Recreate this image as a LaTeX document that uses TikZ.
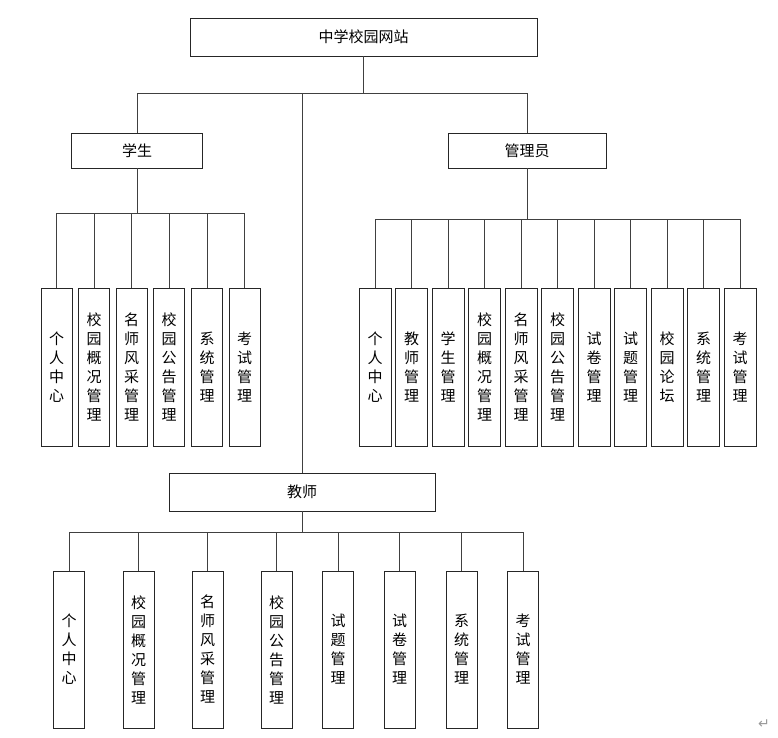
\documentclass[tikz,border=0pt]{standalone}
\usepackage{fontspec}
\newfontfamily\cjk{Noto Sans CJK SC}
\newfontfamily\dejavu{DejaVu Sans}
\begin{document}
\begin{tikzpicture}[x=1pt,y=-1pt,
  box/.style={draw=black!85, line width=0.8pt, fill=white, inner sep=0pt, font=\cjk\fontsize{15}{19}\selectfont},
  leaf/.style={box, minimum width=31pt, minimum height=158pt, align=center},
  conn/.style={draw=black!75, line width=0.8pt}]
\useasboundingbox (0,0) rectangle (778,737);
% top level
\node[box, minimum width=347pt, minimum height=38pt] (root) at (363.5,37) {中学校园网站};
\node[box, minimum width=131pt, minimum height=35pt] (stu) at (137,150.5) {学生};
\node[box, minimum width=158pt, minimum height=35pt] (adm) at (527,150.5) {管理员};
\node[box, minimum width=266pt, minimum height=38pt] (tea) at (302,492) {教师};
% junction rows
\coordinate (h0) at (0,93);
\coordinate (hs) at (0,213);
\coordinate (ha) at (0,219);
\coordinate (ht) at (0,532);
% student leaves
\foreach \i/\x/\t in {1/56.5/个\\人\\中\\心, 2/94/校\\园\\概\\况\\管\\理, 3/131.5/名\\师\\风\\采\\管\\理, 4/169/校\\园\\公\\告\\管\\理, 5/207/系\\统\\管\\理, 6/244.5/考\\试\\管\\理}
  \node[leaf] (s\i) at (\x,367) {\t};
% admin leaves
\foreach \i/\t [evaluate=\i as \x using 375+36.5*(\i-1)] in {1/个\\人\\中\\心, 2/教\\师\\管\\理, 3/学\\生\\管\\理, 4/校\\园\\概\\况\\管\\理, 5/名\\师\\风\\采\\管\\理, 6/校\\园\\公\\告\\管\\理, 7/试\\卷\\管\\理, 8/试\\题\\管\\理, 9/校\\园\\论\\坛, 10/系\\统\\管\\理, 11/考\\试\\管\\理}
  \node[leaf, minimum width=32pt] (a\i) at (\x,367) {\t};
% teacher leaves
\foreach \i/\x/\t in {1/69/个\\人\\中\\心, 2/138.5/校\\园\\概\\况\\管\\理, 3/207.5/名\\师\\风\\采\\管\\理, 4/276.5/校\\园\\公\\告\\管\\理, 5/338/试\\题\\管\\理, 6/399.5/试\\卷\\管\\理, 7/461.5/系\\统\\管\\理, 8/523/考\\试\\管\\理}
  \node[leaf, minimum height=157pt] (t\i) at (\x,649.5) {\t};
% connectors: root level
\draw[conn] (root.south) -- (root.south |- h0);
\draw[conn] (stu.north) -- (stu.north |- h0) -- (adm.north |- h0) -- (adm.north);
\draw[conn] (tea.north |- h0) -- (tea.north);
% student
\draw[conn] (stu.south) -- (stu.south |- hs);
\draw[conn] (s1.north |- hs) -- (s6.north |- hs);
\foreach \i in {1,...,6} \draw[conn] (s\i.north) -- (s\i.north |- hs);
% admin
\draw[conn] (adm.south) -- (adm.south |- ha);
\draw[conn] (a1.north |- ha) -- (a11.north |- ha);
\foreach \i in {1,...,11} \draw[conn] (a\i.north) -- (a\i.north |- ha);
% teacher
\draw[conn] (tea.south) -- (tea.south |- ht);
\draw[conn] (t1.north |- ht) -- (t8.north |- ht);
\foreach \i in {1,...,8} \draw[conn] (t\i.north) -- (t\i.north |- ht);
% paragraph mark
\node[text=black!40, font=\dejavu\fontsize{14}{14}\selectfont, inner sep=0pt] (pm) at (764,724) {↵};
\end{tikzpicture}
\end{document}
